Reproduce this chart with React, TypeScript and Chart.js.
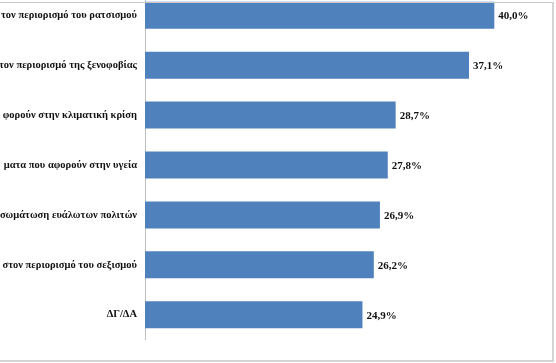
import React, { useEffect, useRef } from "react";
import { Chart, registerables } from "chart.js";

Chart.register(...registerables);

const categories = [
  "τον περιορισμό του ρατσισμού",
  "τον περιορισμό της ξενοφοβίας",
  "φορούν στην κλιματική κρίση",
  "ματα που αφορούν στην υγεία",
  "σωμάτωση ευάλωτων πολιτών",
  "στον περιορισμό του σεξισμού",
  "ΔΓ/ΔΑ",
];
const values = [40.0, 37.1, 28.7, 27.8, 26.9, 26.2, 24.9];
const valueLabels = ["40,0%", "37,1%", "28,7%", "27,8%", "26,9%", "26,2%", "24,9%"];

const BAR_COLOR = "#4F81BD";

const valueLabelPlugin = {
  id: "valueLabels",
  afterDatasetsDraw(chart: any) {
    const ctx = chart.ctx;
    const meta = chart.getDatasetMeta(0);
    ctx.save();
    ctx.font = "bold 11px 'Liberation Serif'";
    ctx.fillStyle = "#111";
    ctx.textAlign = "left";
    ctx.textBaseline = "middle";
    meta.data.forEach((bar: any, i: number) => {
      ctx.fillText(valueLabels[i], bar.x + 4, bar.y + 1);
    });
    ctx.restore();
  },
};

export default function App() {
  const ref = useRef<HTMLCanvasElement | null>(null);

  useEffect(() => {
    if (!ref.current) return;
    const chart = new Chart(ref.current, {
      type: "bar",
      data: {
        labels: categories,
        datasets: [
          {
            data: values,
            backgroundColor: BAR_COLOR,
            borderWidth: 0,
            categoryPercentage: 1,
            barPercentage: 0.54,
          },
        ],
      },
      options: {
        indexAxis: "y",
        animation: false,
        responsive: false,
        maintainAspectRatio: false,
        layout: { padding: { top: 10, bottom: 10, left: 0, right: 18 } },
        plugins: {
          legend: { display: false },
          tooltip: { enabled: false },
          title: { display: false },
        },
        scales: {
          x: {
            display: false,
            min: 0,
            max: 45,
            grid: { display: false },
          },
          y: {
            grid: { display: false, drawTicks: false },
            border: { display: true, color: "#bfbfbf", width: 1 },
            ticks: {
              padding: 8,
              color: "#111",
              font: { family: "'Liberation Serif'", size: 10.5, weight: "bold" },
              crossAlign: "near",
            },
            afterFit: (axis: any) => {
              axis.width = 145;
            },
          },
        },
      },
      plugins: [valueLabelPlugin],
    });
    return () => chart.destroy();
  }, []);

  return (
    <div
      style={{
        position: "fixed",
        left: 0,
        top: 0,
        width: 556,
        height: 363,
        overflow: "hidden",
        background: "#fff",
      }}
    >
      <canvas
        ref={ref}
        width={556}
        height={378}
        style={{ position: "absolute", left: 0, top: -24, width: 556, height: 378 }}
      />
      <div
        style={{
          position: "absolute",
          left: -5,
          top: 2,
          width: 557,
          height: 357,
          borderTop: "1px solid #c8c8c8",
          borderRight: "2px solid #d4d4d4",
          borderBottom: "2px solid #d4d4d4",
          pointerEvents: "none",
        }}
      />
    </div>
  );
}
